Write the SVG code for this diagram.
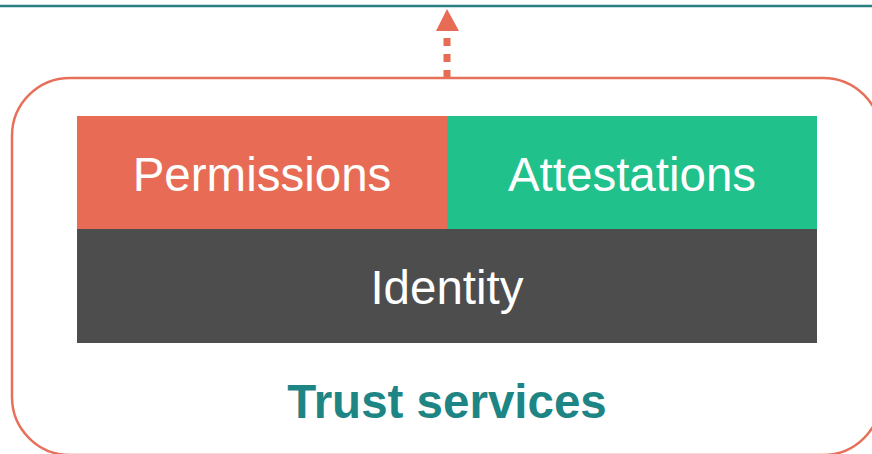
<svg xmlns="http://www.w3.org/2000/svg" width="872" height="454" viewBox="0 0 872 454">
  <style>
    .label { font-family: "Liberation Sans", Arial, sans-serif; font-size: 47.5px; fill: #ffffff; text-anchor: middle; }
    .title { font-family: "Liberation Sans", Arial, sans-serif; font-size: 47.5px; font-weight: bold; fill: #1e8585; text-anchor: middle; }
    .accent { fill: #e86c55; }
  </style>

  <!-- upper boundary line -->
  <line x1="0" y1="6" x2="872" y2="6" stroke="#2a7f80" stroke-width="2.5"/>

  <g id="connectors">
    <line x1="447" y1="78" x2="447" y2="38" stroke="#e86c55" stroke-width="7" stroke-dasharray="8 8"/>
    <path class="accent" d="M436,31 L447,9 L459,31 Z"/>
  </g>

  <g id="trust-services">
    <rect x="12" y="78" width="869" height="377" rx="58" ry="58" fill="none" stroke="#e8705a" stroke-width="2.5"/>
    <text class="title" x="447" y="418">Trust services</text>
  </g>

  <g id="permissions">
    <rect class="accent" x="77" y="116" width="370" height="113"/>
    <text class="label" x="262" y="191">Permissions</text>
  </g>

  <g id="attestations">
    <rect x="447" y="116" width="370" height="113" fill="#20c18a"/>
    <text class="label" x="632" y="191">Attestations</text>
  </g>

  <g id="identity">
    <rect x="77" y="229" width="740" height="114" fill="#4d4d4d"/>
    <text class="label" x="447" y="304">Identity</text>
  </g>
</svg>
